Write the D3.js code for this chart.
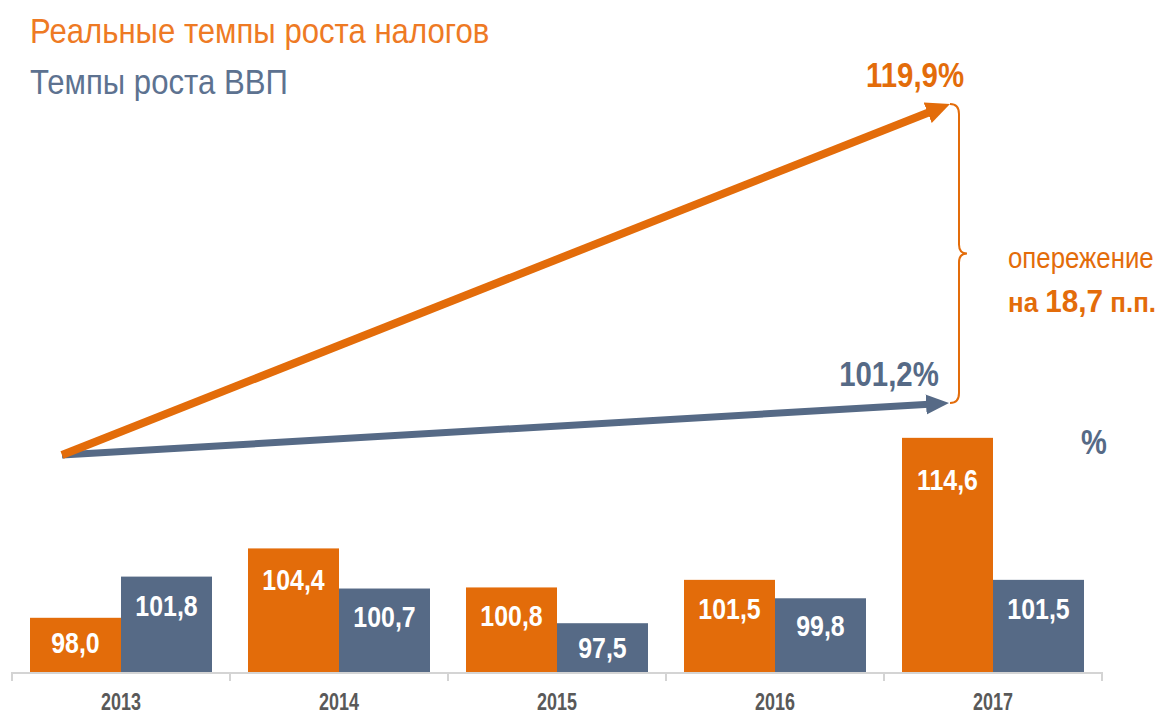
<!DOCTYPE html>
<html>
<head>
<meta charset="utf-8">
<script src="https://cdn.jsdelivr.net/npm/d3@7"></script>
<style>
  body { margin: 0; background: #fff; }
  svg text { font-family: "Liberation Sans Narrow", "Arial Narrow", "Liberation Sans", sans-serif; }
</style>
</head>
<body>
<div id="chart"></div>
<script>
// данные
const years = ["2013", "2014", "2015", "2016", "2017"];
const taxGrowth = [98.0, 104.4, 100.8, 101.5, 114.6];
const gdpGrowth = [101.8, 100.7, 97.5, 99.8, 101.5];
const seriesKeys = ["tax", "gdp"];
const seriesNames = ["Реальные темпы роста налогов", "Темпы роста ВВП"];
const cumBase = 100;
const cumValues = [119.9, 101.2]; // накопленный рост 2013-2017
const leadText = "18,7";

const ORANGE = "#e36c0a", BLUE = "#566a86";
const colors = { tax: ORANGE, gdp: BLUE };
const fmt = v => d3.format(".1f")(v).replace(".", ",");
const val = f => (typeof f === "function" ? f : () => f);

// узкий шрифт: сжимаем текст по горизонтали
function squeeze(sel, fx, fy, sx) {
  return sel.attr("transform", (d, i) =>
    `translate(${val(fx)(d, i)},${val(fy)(d, i)}) scale(${sx},1)`);
}

const width = 1161, height = 715;
const svg = d3.select("#chart").append("svg")
  .attr("width", width).attr("height", height);

// шкалы
const x0 = d3.scaleBand().domain(years).range([12, 1102]);
const x1 = d3.scaleBand().domain(seriesKeys).range([18, x0.bandwidth() - 18]);
const y = d3.scaleLinear().domain([93, 115]).range([672, 433.5]);

const rows = years.map((yr, i) => ({ yr, tax: taxGrowth[i], gdp: gdpGrowth[i] }));

// заголовки-легенда
svg.selectAll("text.legend")
  .data(seriesNames)
  .join("text")
  .attr("class", "legend")
  .attr("fill", (d, i) => i === 0 ? "#ee7a24" : "#5d7290")
  .style("font-size", "36px")
  .text(d => d)
  .call(squeeze, 30, (d, i) => 43 + i * 51, 0.865);

// столбцы
const grp = svg.selectAll("g.year")
  .data(rows)
  .join("g")
  .attr("class", "year")
  .attr("transform", d => `translate(${x0(d.yr)},0)`);

grp.selectAll("rect")
  .data(d => seriesKeys.map(k => ({ k, v: d[k] })))
  .join("rect")
  .attr("x", d => x1(d.k))
  .attr("y", d => y(d.v))
  .attr("width", x1.bandwidth())
  .attr("height", d => y.range()[0] - y(d.v))
  .attr("fill", d => colors[d.k]);

grp.selectAll("text.val")
  .data(d => seriesKeys.map(k => ({ k, v: d[k] })))
  .join("text")
  .attr("class", "val")
  .attr("dy", "0.36em")
  .attr("text-anchor", "middle")
  .attr("fill", "#fff")
  .style("font-size", "30px")
  .style("font-weight", "bold")
  .text(d => fmt(d.v))
  .call(squeeze,
    d => x1(d.k) + x1.bandwidth() / 2,
    d => y(d.v) + 20 + (y.range()[0] - y(d.v)) * 0.09,
    0.83);

// ось X
const axisY = y.range()[0];
const ax = svg.append("g").attr("class", "axis-x");
ax.append("line")
  .attr("x1", x0.range()[0]).attr("x2", x0.range()[1])
  .attr("y1", axisY + 1).attr("y2", axisY + 1)
  .attr("stroke", "#d4d4d4").attr("stroke-width", 2);
ax.selectAll("line.sep")
  .data(d3.range(years.length + 1))
  .join("line")
  .attr("class", "sep")
  .attr("x1", i => x0.range()[0] + i * x0.step())
  .attr("x2", i => x0.range()[0] + i * x0.step())
  .attr("y1", axisY).attr("y2", axisY + 9)
  .attr("stroke", "#d4d4d4").attr("stroke-width", 2);
ax.selectAll("text")
  .data(years)
  .join("text")
  .attr("text-anchor", "middle")
  .attr("fill", "#595959")
  .style("font-size", "23px")
  .style("font-weight", "bold")
  .text(d => d)
  .call(squeeze, d => x0(d) + x0.bandwidth() / 2, 710, 0.78);

svg.append("text")
  .attr("text-anchor", "middle")
  .attr("fill", BLUE)
  .style("font-size", "35px").style("font-weight", "bold")
  .text("%")
  .call(squeeze, 1094, 454, 0.83);

// стрелки накопленного роста
const axX = d3.scaleLinear().domain([0, 1]).range([62, 950]);
const axY = d3.scaleLinear().domain([cumBase, cumValues[1], cumValues[0]]).range([455, 403, 104]);

const defs = svg.append("defs");
seriesKeys.forEach(k => {
  defs.append("marker")
    .attr("id", "head-" + k)
    .attr("markerUnits", "userSpaceOnUse")
    .attr("viewBox", "0 -12 26 24")
    .attr("markerWidth", 26).attr("markerHeight", 24)
    .attr("refX", 3).attr("refY", 0)
    .attr("orient", "auto")
    .append("path")
    .attr("d", k === "tax" ? "M0,-11L24,0L0,11Z" : "M0,-10L23,0L0,10Z")
    .attr("fill", colors[k]);
});

const arrows = seriesKeys.map((k, i) => {
  const x1p = axX(0), y1p = axY(cumBase), x2p = axX(1), y2p = axY(cumValues[i]);
  const len = Math.hypot(x2p - x1p, y2p - y1p);
  const back = 21;
  return { k, x1p, y1p, x2p, y2p,
    ex: x2p - (x2p - x1p) / len * back, ey: y2p - (y2p - y1p) / len * back };
});

svg.selectAll("line.arrow")
  .data(arrows.slice().reverse())
  .join("line")
  .attr("class", "arrow")
  .attr("x1", d => d.x1p).attr("y1", d => d.y1p)
  .attr("x2", d => d.ex).attr("y2", d => d.ey)
  .attr("stroke", d => colors[d.k])
  .attr("stroke-width", d => d.k === "tax" ? 8 : 7)
  .attr("marker-end", d => `url(#head-${d.k})`);

// фигурная скобка
const bx = axX(1), bTop = axY(cumValues[0]), bBot = axY(cumValues[1]);
const bMid = (bTop + bBot) / 2;
const bw = 9;
svg.append("path")
  .attr("d", `M${bx},${bTop} Q${bx + bw},${bTop} ${bx + bw},${bTop + 10}
    L${bx + bw},${bMid - 9} Q${bx + bw},${bMid} ${bx + bw + 8},${bMid}
    Q${bx + bw},${bMid} ${bx + bw},${bMid + 9}
    L${bx + bw},${bBot - 10} Q${bx + bw},${bBot} ${bx},${bBot}`)
  .attr("fill", "none")
  .attr("stroke", ORANGE)
  .attr("stroke-width", 2);

// подписи стрелок
svg.selectAll("text.cum")
  .data(cumValues)
  .join("text")
  .attr("class", "cum")
  .attr("text-anchor", "middle")
  .attr("fill", (d, i) => i === 0 ? ORANGE : BLUE)
  .style("font-size", "35px").style("font-weight", "bold")
  .text(d => fmt(d) + "%")
  .call(squeeze, (d, i) => i === 0 ? 915 : 889, (d, i) => i === 0 ? 87 : 386, 0.84);

svg.append("text")
  .attr("fill", ORANGE)
  .style("font-size", "30px")
  .text("опережение")
  .call(squeeze, 1008, 268, 0.86);

const lead = svg.append("text")
  .attr("fill", ORANGE)
  .style("font-weight", "bold")
  .style("font-size", "27px")
  .call(squeeze, 1008, 312, 0.96);
lead.append("tspan").text("на ");
lead.append("tspan").style("font-size", "31px").text(leadText);
lead.append("tspan").text(" п.п.");
</script>
</body>
</html>
